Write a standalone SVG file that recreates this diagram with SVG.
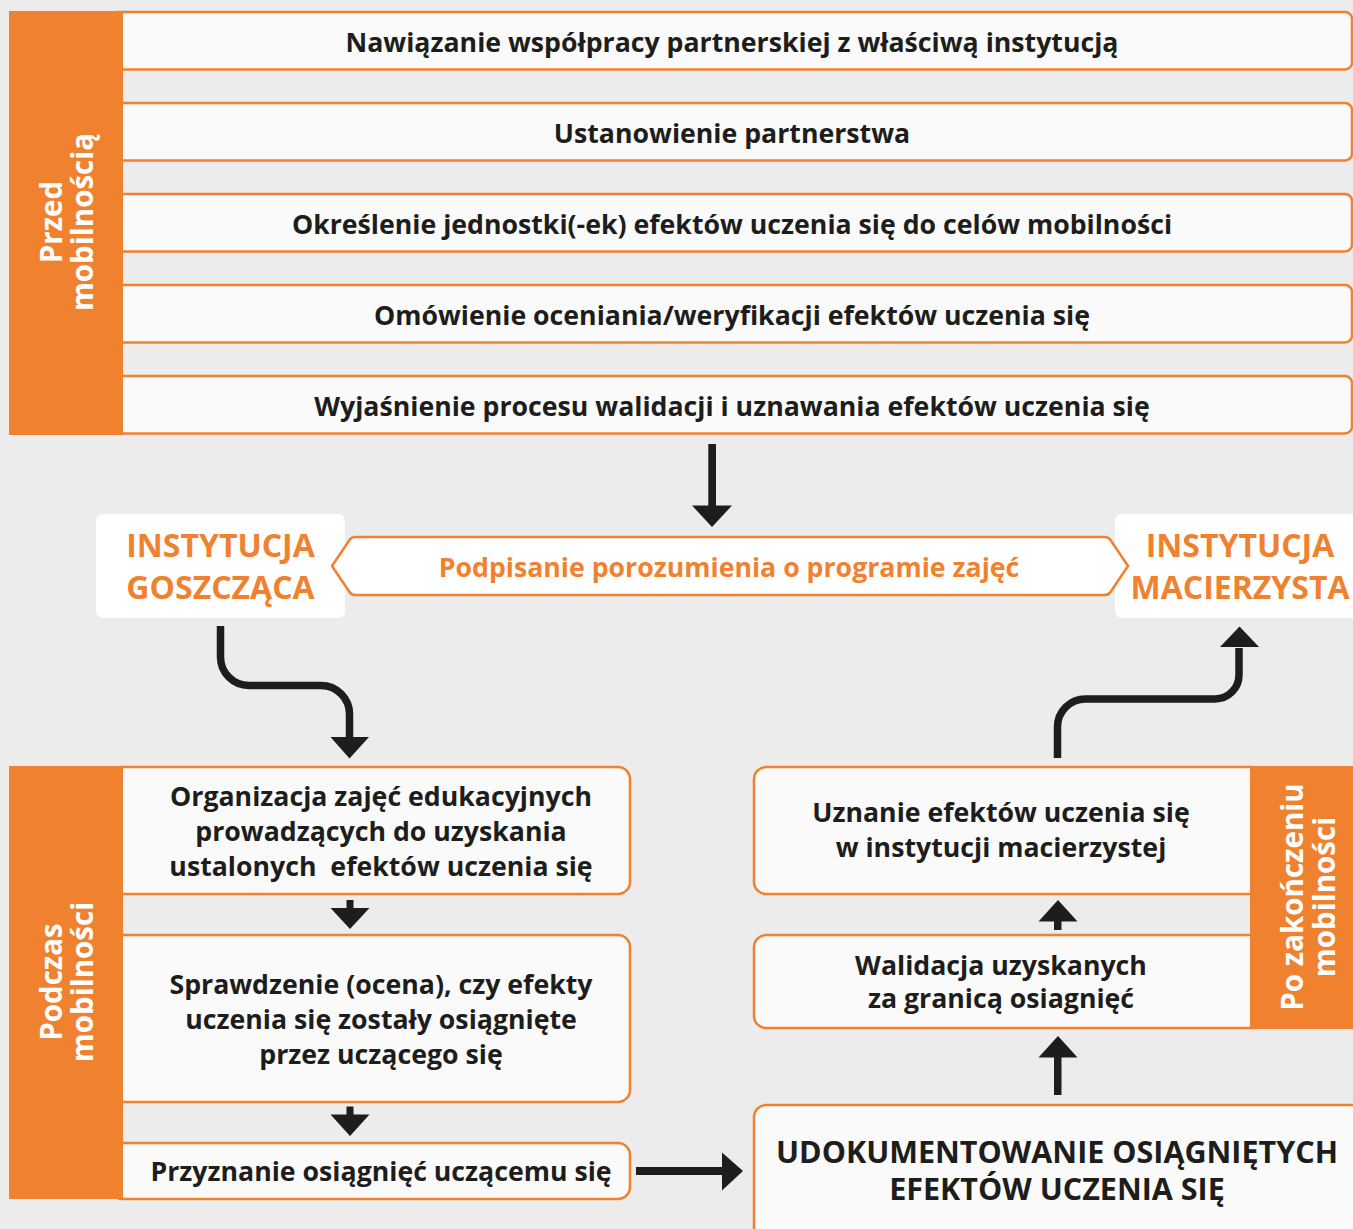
<svg xmlns="http://www.w3.org/2000/svg" width="1353" height="1229" viewBox="0 0 1353 1229">
<defs>
<style>
.bg{fill:#ececec}
.box{fill:#fafafa;stroke:#f0812f;stroke-width:2.5}
.band{fill:#f0812f}
.t{font-family:"Open Sans","Noto Sans","DejaVu Sans",sans-serif;font-weight:700;font-size:26.7px;fill:#1d1d1b;text-anchor:middle}
.side{font-family:"Open Sans","Noto Sans","DejaVu Sans",sans-serif;font-weight:700;font-size:29.5px;fill:#ffffff;text-anchor:middle}
.inst{font-family:"Open Sans","Noto Sans","DejaVu Sans",sans-serif;font-weight:700;font-size:32px;fill:#f0812f;text-anchor:middle}
.or{fill:#f0812f}
.big{font-size:30.5px}
.ln{fill:none;stroke:#1d1d1b;stroke-width:7.5}
.hd{fill:#1d1d1b}
</style>
</defs>
<rect class="bg" x="0" y="0" width="1353" height="1229"/>

<g id="row1"><rect class="box" x="110" y="12" width="1242" height="57.5" rx="7"/><text class="t" x="732" y="52">Nawiązanie współpracy partnerskiej z właściwą instytucją</text></g>
<g id="row2"><rect class="box" x="110" y="103" width="1242" height="57.5" rx="7"/><text class="t" x="732" y="143">Ustanowienie partnerstwa</text></g>
<g id="row3"><rect class="box" x="110" y="194" width="1242" height="57.5" rx="7"/><text class="t" x="732" y="234">Określenie jednostki(-ek) efektów uczenia się do celów mobilności</text></g>
<g id="row4"><rect class="box" x="110" y="285" width="1242" height="57.5" rx="7"/><text class="t" x="732" y="325">Omówienie oceniania/weryfikacji efektów uczenia się</text></g>
<g id="row5"><rect class="box" x="110" y="376" width="1242" height="57.5" rx="7"/><text class="t" x="732" y="416">Wyjaśnienie procesu walidacji i uznawania efektów uczenia się</text></g>

<g id="przed"><rect class="band" x="9" y="11" width="114" height="424"/><text class="side" transform="translate(0,222) rotate(-90)"><tspan x="0" y="62">Przed</tspan><tspan x="0" y="93">mobilnością</tspan></text></g>

<g id="goszczaca"><rect x="96" y="514" width="249" height="104" rx="7" fill="#ffffff"/><text class="inst" x="220.5" y="557">INSTYTUCJA</text><text class="inst" x="220.5" y="599">GOSZCZĄCA</text></g>
<g id="macierzysta"><rect x="1115" y="514" width="250" height="104" rx="7" fill="#ffffff"/><text class="inst" x="1240" y="557">INSTYTUCJA</text><text class="inst" x="1240" y="599">MACIERZYSTA</text></g>

<g id="porozumienie"><path d="M332 566 L349.5 540 Q351.5 537 355 537 L1105 537 Q1108.5 537 1110.5 540 L1128 566 L1110.5 592 Q1108.5 595 1105 595 L355 595 Q351.5 595 349.5 592 Z" fill="#ffffff" stroke="#f0812f" stroke-width="2.5" stroke-linejoin="round"/><text class="t or" x="729" y="577">Podpisanie porozumienia o programie zajęć</text></g>

<g id="organizacja"><rect class="box" x="110" y="767" width="520" height="127" rx="12"/><text class="t"><tspan x="381" y="806">Organizacja zajęć edukacyjnych</tspan><tspan x="381" y="841">prowadzących do uzyskania</tspan><tspan x="381" y="876" xml:space="preserve">ustalonych  efektów uczenia się</tspan></text></g>
<g id="sprawdzenie"><rect class="box" x="110" y="935" width="520" height="167" rx="12"/><text class="t"><tspan x="381" y="994">Sprawdzenie (ocena), czy efekty</tspan><tspan x="381" y="1029">uczenia się zostały osiągnięte</tspan><tspan x="381" y="1064">przez uczącego się</tspan></text></g>
<g id="przyznanie"><rect class="box" x="110" y="1143" width="520" height="56" rx="12"/><text class="t" x="381" y="1181">Przyznanie osiągnięć uczącemu się</text></g>
<g id="podczas"><rect class="band" x="9" y="766" width="114" height="433"/><text class="side" transform="translate(0,982) rotate(-90)"><tspan x="0" y="62">Podczas</tspan><tspan x="0" y="93">mobilności</tspan></text></g>

<g id="uznanie"><rect class="box" x="754" y="767" width="510" height="127" rx="12"/><text class="t"><tspan x="1001" y="822">Uznanie efektów uczenia się</tspan><tspan x="1001" y="857">w instytucji macierzystej</tspan></text></g>
<g id="walidacja"><rect class="box" x="754" y="935" width="510" height="93" rx="12"/><text class="t"><tspan x="1001" y="975">Walidacja uzyskanych</tspan><tspan x="1001" y="1008">za granicą osiagnięć</tspan></text></g>
<g id="po"><rect class="band" x="1250" y="766" width="103" height="263"/><text class="side" transform="translate(0,897) rotate(-90)"><tspan x="0" y="1303">Po zakończeniu</tspan><tspan x="0" y="1335">mobilności</tspan></text></g>
<g id="udokumentowanie"><rect class="box" x="754" y="1105" width="640" height="160" rx="12"/><text class="t big"><tspan x="1057" y="1163">UDOKUMENTOWANIE OSIĄGNIĘTYCH</tspan><tspan x="1057" y="1200">EFEKTÓW UCZENIA SIĘ</tspan></text></g>

<g id="connectors">
<rect class="hd" x="708.3" y="444" width="7.7" height="63"/><polygon class="hd" points="692,505.5 732,505.5 712,527"/>
<path class="ln" d="M220.5 626 V657 A28.5 28.5 0 0 0 249 685.5 H321 A28.5 28.5 0 0 1 349.5 714 V739"/>
<polygon class="hd" points="330.5,737 369,737 349.5,758.5"/>
<path class="ln" d="M1057.5 758 V727 A28 28 0 0 1 1085.5 699 H1215 A24 24 0 0 0 1239 675 V648"/>
<polygon class="hd" points="1220,647 1259,647 1239.5,626.5"/>
<rect class="hd" x="346.5" y="900" width="7" height="10"/><polygon class="hd" points="330.5,908 369.5,908 350,929"/>
<rect class="hd" x="346.5" y="1106.5" width="7" height="10"/><polygon class="hd" points="330.5,1114.5 369.5,1114.5 350,1136"/>
<rect class="hd" x="636" y="1167" width="88" height="8"/><polygon class="hd" points="722,1152.5 743,1171 722,1190.5"/>
<rect class="hd" x="1054" y="919" width="7.5" height="11"/><polygon class="hd" points="1038.5,921.5 1077.5,921.5 1058,900"/>
<rect class="hd" x="1054" y="1055" width="7.5" height="40"/><polygon class="hd" points="1038.5,1057.5 1077.5,1057.5 1058,1036"/>
</g>
</svg>
